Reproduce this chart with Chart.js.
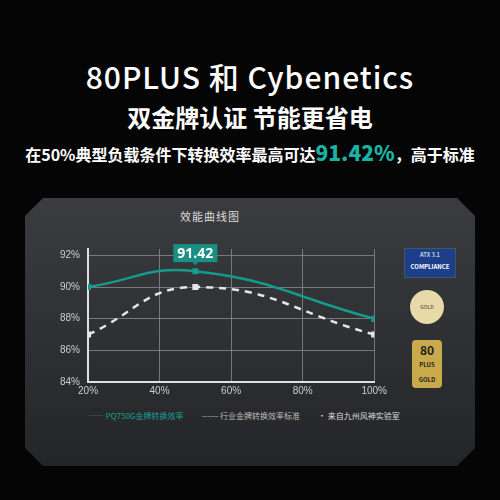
<!DOCTYPE html>
<html lang="zh">
<head>
<meta charset="UTF-8" />
<script src="https://cdn.jsdelivr.net/npm/chart.js"></script>
<style>
  body { margin:0; width:500px; height:500px; background:#050505; overflow:hidden; font-family:"Noto Sans CJK SC", "Noto Sans", sans-serif; color:#fff; position:relative; }
  .t1 { position:absolute; top:54px; width:100%; text-align:center; font-size:30px; font-weight:500; letter-spacing:1px; }
  .t2 { position:absolute; top:99px; width:100%; text-align:center; font-size:24px; font-weight:700; }
  .t3 { position:absolute; top:137px; width:100%; text-align:center; font-size:16px; font-weight:700; }
  .t3 b { color:#1ab3a4; font-size:21px; }
  .panel { position:absolute; left:25px; top:198px; width:450px; height:268px;
    background:linear-gradient(#3a3c3f,#242527);
    clip-path:polygon(18px 0,432px 0,450px 18px,450px 250px,432px 268px,18px 268px,0 250px,0 18px); }
  .ptitle { position:absolute; top:208px; left:0; width:420px; text-align:center; font-size:11px; color:#ddd; letter-spacing:1px; }
  #wrap { position:absolute; left:52px; top:235px; width:338px; height:165px; }
  .legend { position:absolute; top:410px; left:88px; font-size:8px; color:#bbb; white-space:nowrap; }
  .legend span { margin-right:18px; }
  .badge { position:absolute; left:404px; }
</style>
</head>
<body>
<div class="t1">80PLUS 和 Cybenetics</div>
<div class="t2">双金牌认证 节能更省电</div>
<div class="t3">在50%典型负载条件下转换效率最高可达<b>91.42%</b>，高于标准</div>
<div class="panel"></div>
<div class="ptitle">效能曲线图</div>
<div id="wrap"><canvas id="c"></canvas></div>
<div class="legend"><span style="color:#1a9e92">—— PQ750G金牌转换效率</span><span>------ 行业金牌转换效率标准</span><span style="color:#ddd">• 来自九州风神实验室</span></div>
<div class="badge" style="top:248px;width:50px;height:28px;background:#1d3f8a;font-size:6px;text-align:center;line-height:12px;border:1px solid #456;">ATX 3.1<br><b>COMPLIANCE</b></div>
<div class="badge" style="top:290px;left:410px;width:34px;height:34px;border-radius:50%;background:#e8d9a8;color:#333;font-size:5px;text-align:center;line-height:34px;">GOLD</div>
<div class="badge" style="top:340px;left:412px;width:30px;height:44px;background:#c9a94a;border-radius:4px;color:#222;font-size:12px;font-weight:700;text-align:center;line-height:12px;padding-top:4px;">80<br><span style="font-size:6px">PLUS<br>GOLD</span></div>
<script>
  const loads = [20, 50, 100]
  const pq750g = [90.0, 91.0, 88.0]
  const industry = [87.0, 90.0, 87.0]
  const xTicks = [20, 40, 60, 80, 100]
  const peakLabel = "91.42"

  const peakBox = {
    id: "peakBox",
    afterDatasetsDraw(chart) {
      const ctx = chart.ctx
      const p = chart.getDatasetMeta(0).data[1]
      const w = 44, h = 18, x = p.x - w / 2, y = p.y - h - 9
      ctx.save()
      ctx.fillStyle = "#1a8f84"
      ctx.fillRect(x, y, w, h)
      ctx.beginPath()
      ctx.moveTo(p.x - 3, y + h); ctx.lineTo(p.x + 3, y + h); ctx.lineTo(p.x, y + h + 3); ctx.fill()
      ctx.fillStyle = "#fff"
      ctx.font = "bold 14px 'Noto Sans'"
      ctx.textAlign = "center"; ctx.textBaseline = "middle"
      ctx.fillText(peakLabel, p.x, y + h / 2 + 1)
      ctx.restore()
    },
  }

  new Chart(document.getElementById("c"), {
    type: "line",
    data: {
      datasets: [
        { data: loads.map((x, i) => ({ x, y: pq750g[i] })), borderColor: "#159a8e", backgroundColor: "#159a8e",
          borderWidth: 2.5, tension: 0.45, pointStyle: "rect", pointRadius: 2.5 },
        { data: loads.map((x, i) => ({ x, y: industry[i] })), borderColor: "#e6e6e6", backgroundColor: "#e6e6e6",
          borderWidth: 2.5, borderDash: [7, 6], tension: 0.45, pointStyle: "rect", pointRadius: 2.5 },
      ],
    },
    options: {
      responsive: true, maintainAspectRatio: false, animation: false,
      layout: { padding: { top: 6, right: 10 } },
      plugins: { legend: { display: false }, tooltip: { enabled: false } },
      scales: {
        x: { type: "linear", min: 20, max: 100,
          afterBuildTicks: (s) => { s.ticks = xTicks.map((v) => ({ value: v })) },
          ticks: { color: "#ccc", font: { size: 10 }, callback: (v) => v + "%" },
          grid: { color: "#8a8a8a", lineWidth: 0.8, drawTicks: false },
          border: { color: "#e0e0e0", width: 2 } },
        y: { min: 84, max: 92.4,
          afterBuildTicks: (s) => { s.ticks = [84, 86, 88, 90, 92].map((v) => ({ value: v })) },
          ticks: { color: "#ccc", font: { size: 10 }, padding: 8, callback: (v) => v + "%" },
          grid: { color: "#8a8a8a", lineWidth: 0.8, drawTicks: false },
          border: { color: "#e0e0e0", width: 2 } },
      },
    },
    plugins: [peakBox],
  })
</script>
</body>
</html>
